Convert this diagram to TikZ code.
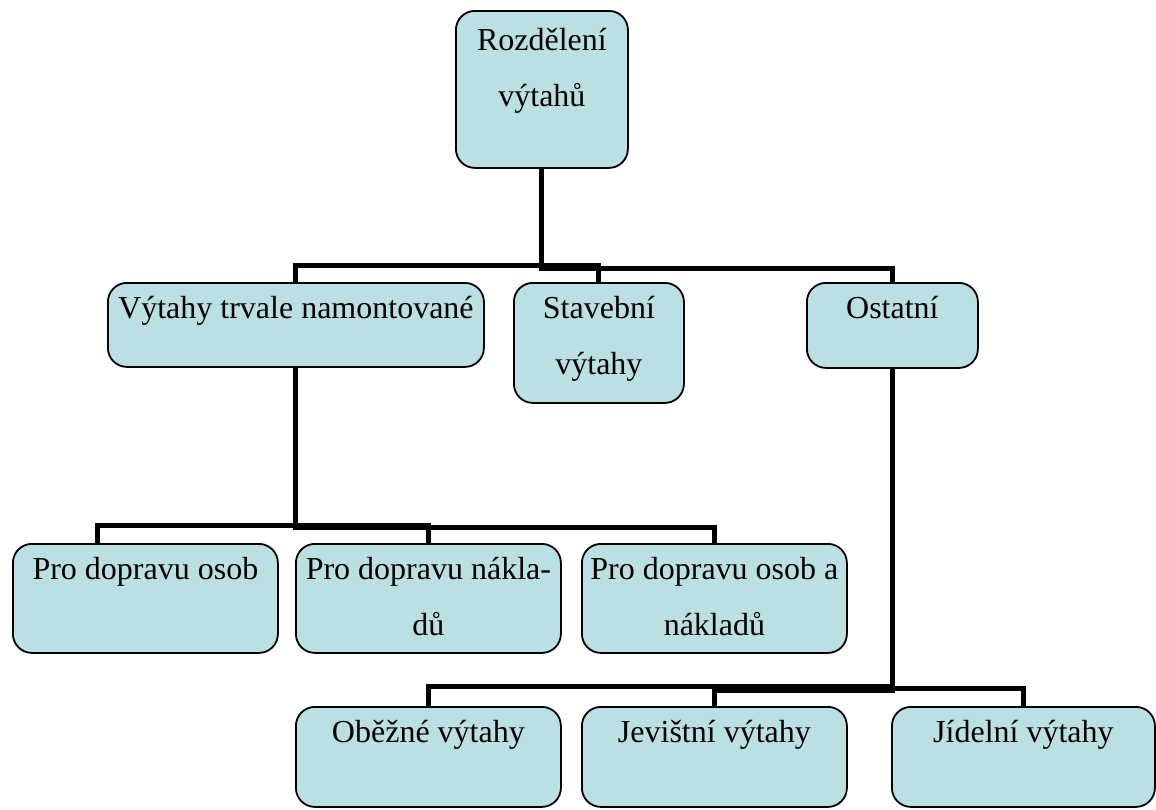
\documentclass[tikz,border=0pt]{standalone}
\usepackage{fontspec}
\setmainfont{Liberation Serif}
\usetikzlibrary{calc,backgrounds}
\definecolor{boxfill}{HTML}{BBE0E3}
\begin{document}
\begin{tikzpicture}[x=1pt,y=-1pt,
  box/.style={draw=black,line width=1.8pt,fill=boxfill,rounded corners=19pt,anchor=north west,inner sep=0pt},
  lbl/.style={anchor=north,inner sep=0pt,align=center,font=\fontsize{32}{56}\selectfont},
  conn/.style={draw=black,line width=5pt,line cap=rect}]
\useasboundingbox (0,0) rectangle (1156,809);
\newcommand\mkbox[5]{\node[box,minimum width=#4pt,minimum height=#5pt] (#1) at (#2,#3) {};}
\newcommand\mklbl[2]{\node[lbl] at ($(#1.north)+(0,6)$) {\rule{0pt}{30pt}#2};}
\mkbox{root}{455}{10}{172}{157}
\mkbox{v}{107}{282}{376}{84}
\mkbox{s}{513}{282}{170}{120}
\mkbox{o}{806}{282}{171}{85}
\mkbox{a}{12}{543}{265}{109}
\mkbox{b}{295}{543}{265}{109}
\mkbox{c}{581}{543}{265}{109}
\mkbox{d}{295}{706}{265}{100}
\mkbox{e}{581}{706}{265}{100}
\mkbox{f}{891}{706}{263}{100}
\begin{scope}[on background layer]
% level 1 -> 2
\draw[conn] (root.south) -- ++(0,97) -| (v.north);
\draw[conn] (root.south) -- ++(0,97) -| (s.north);
\draw[conn] (root.south) -- ++(0,100) -| (o.north);
% Vytahy -> level 3
\draw[conn] (v.south) -- ++(0,158) -| ($(a.north west)+(85,0)$);
\draw[conn] (v.south) -- ++(0,158) -| (b.north);
\draw[conn] (v.south) -- ++(0,160) -| (c.north);
% Ostatni -> level 4
\draw[conn] (o.south) -- ++(0,318) -| (d.north);
\draw[conn] (o.south) -- ++(0,322) -| (e.north);
\draw[conn] (o.south) -- ++(0,320) -| (f.north);
\end{scope}
% labels
\node[lbl] at ($(root.north)+(0,10)$) {\rule{0pt}{30pt}Rozdělení\\výtahů};
\mklbl{v}{Výtahy trvale namontované}
\mklbl{s}{Stavební\\výtahy}
\mklbl{o}{Ostatní}
\mklbl{a}{Pro dopravu osob}
\mklbl{b}{Pro dopravu nákla-\\dů}
\mklbl{c}{Pro dopravu osob a\\nákladů}
\mklbl{d}{Oběžné výtahy}
\mklbl{e}{Jevištní výtahy}
\mklbl{f}{Jídelní výtahy}
\end{tikzpicture}
\end{document}
